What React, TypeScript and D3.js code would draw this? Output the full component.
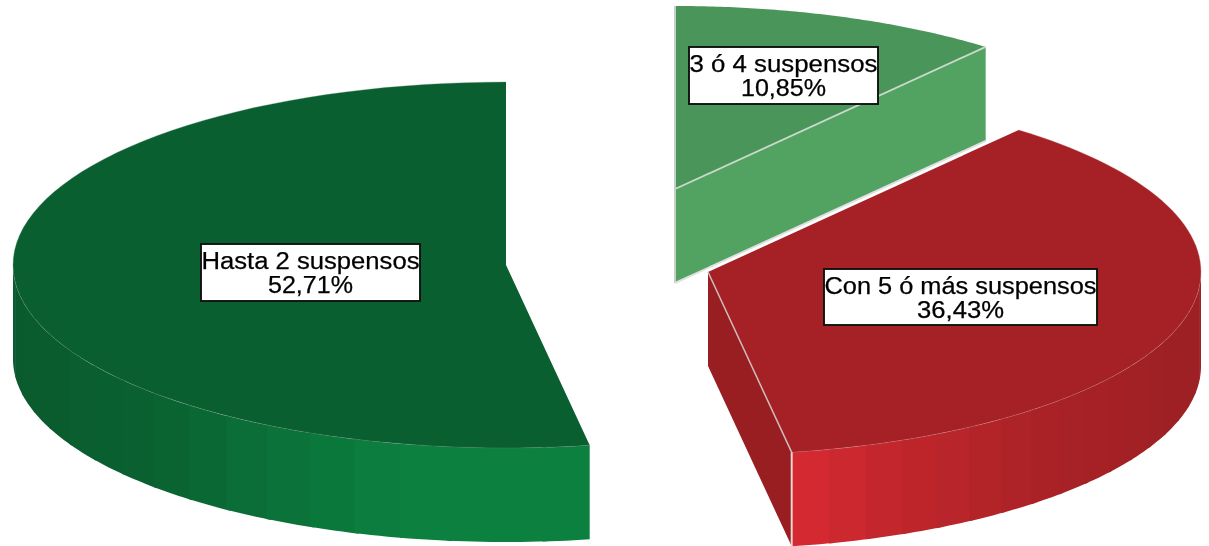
import React from "react";
import * as d3 from "d3";

const categories = ["Hasta 2 suspensos", "Con 5 ó más suspensos", "3 ó 4 suspensos"];
const percents = [52.71, 36.43, 10.85];
const percentLabels = ["52,71%", "36,43%", "10,85%"];
const topColors = ["#0a5f31", "#a52126", "#4a9559"];
const faceColors = ["#0a5f31", "#981e21", "#52a262"];
const wallStops = [
  ["#0a5a2d", "#0a6131", "#0c803f", "#0c803f"],
  ["#9c2024", "#a82226", "#c0262c", "#d92a32"],
  ["#52a262", "#52a262", "#52a262", "#52a262"],
];
const wallDomains = [
  [13, 150, 400, 590],
  [1200, 1060, 900, 791],
  [675, 800, 900, 987],
];
const apexes: [number, number][] = [[506, 265], [708, 272], [675, 189]];
const boxes = [
  { x: 201, y: 244, w: 219, h: 57 },
  { x: 824, y: 269, w: 273, h: 56 },
  { x: 689, y: 47, w: 189, h: 57 },
];
const textWidths = [218, 272, 188];
const pctWidths = [85, 87, 85];

const RX = 493;
const RY = 183;
const DEPTH = 94;

const W = 1209;
const H = 546;

export default function App() {
  const arcs = d3.pie<number>().sort(null).value((d) => d)(percents);
  const line = d3.line();

  const pt = (i: number, a: number): [number, number] => [
    apexes[i][0] - RX * Math.sin(a),
    apexes[i][1] - RY * Math.cos(a),
  ];

  const slices = arcs.map((arc, i) => {
    const a0 = arc.startAngle;
    const a1 = arc.endAngle;
    const rim = d3.range(0, 81).map((k) => pt(i, a0 + ((a1 - a0) * k) / 80));
    const apex = apexes[i];
    const top = line([apex, ...rim])! + "Z";
    const rimLine = line(rim)!;
    const color = d3
      .scaleLinear<string>()
      .domain(wallDomains[i])
      .range(wallStops[i])
      .interpolate(d3.interpolateRgb);

    const lo = Math.max(a0, Math.PI / 2);
    const hi = Math.min(a1, (3 * Math.PI) / 2);
    const bands: { d: string; fill: string }[] = [];
    if (hi > lo) {
      const n = 18;
      for (let k = 0; k < n; k++) {
        const s = lo + ((hi - lo) * k) / n;
        const e = Math.min(hi, lo + ((hi - lo) * (k + 1)) / n + 0.01);
        const seg = d3.range(0, 7).map((m) => pt(i, s + ((e - s) * m) / 6));
        const low = seg.map(([x, y]) => [x, y + DEPTH] as [number, number]).reverse();
        bands.push({
          d: line([...seg, ...low])! + "Z",
          fill: color(pt(i, (s + e) / 2)[0]),
        });
      }
    }
    return { i, a0, a1, top, rimLine, bands, apex };
  });

  const red = slices[1];
  const redTip = pt(1, red.a0);
  const lite = slices[2];
  const liteTip = pt(2, lite.a0);
  const liteApex = lite.apex;

  const quad = (p: [number, number], q: [number, number]) =>
    line([p, q, [q[0], q[1] + DEPTH], [p[0], p[1] + DEPTH]])! + "Z";

  return (
    <svg
      width={W}
      height={H}
      viewBox={`0 0 ${W} ${H}`}
      style={{ position: "absolute", left: 0, top: 0, background: "#fff" }}
    >
      <defs>
        <filter
          id="soft"
          filterUnits="userSpaceOnUse"
          x={0}
          y={0}
          width={W}
          height={H}
          colorInterpolationFilters="sRGB"
        >
          <feGaussianBlur stdDeviation="0.75" />
        </filter>
      </defs>
      <g filter="url(#soft)">
        <g>
          {slices[0].bands.map((b, k) => (
            <path key={k} d={b.d} fill={b.fill} />
          ))}
          <path d={slices[0].top} fill={topColors[0]} />
          <path d={slices[0].rimLine} fill="none" stroke="#5d8f72" strokeWidth={0.8} opacity={0.4} />
        </g>

        <g>
          <path d={quad(red.apex, redTip)} fill={faceColors[1]} />
          {red.bands.map((b, k) => (
            <path key={k} d={b.d} fill={b.fill} />
          ))}
          <path d={red.top} fill={topColors[1]} />
          <path d={red.rimLine} fill="none" stroke="#c98a8c" strokeWidth={0.8} opacity={0.4} />
          <path d={line([red.apex, redTip])!} fill="none" stroke="#d0bcbc" strokeWidth={1.5} />
          <path
            d={line([redTip, [redTip[0], redTip[1] + DEPTH]])!}
            stroke="#e6d6d6"
            strokeWidth={2}
          />
        </g>

        <g>
          <path d={lite.top} fill={topColors[2]} />
          <path d={quad(liteApex, liteTip)} fill={faceColors[2]} />
          <path d={line([liteApex, liteTip])!} fill="none" stroke="#c9d9cc" strokeWidth={1.8} />
          <path
            d={line([[liteApex[0], pt(2, lite.a1)[1]], [liteApex[0], liteApex[1] + DEPTH]])!}
            stroke="#c5d0c7"
            strokeWidth={2}
          />
          <path
            d={line([[liteApex[0], liteApex[1] + DEPTH], [liteTip[0], liteTip[1] + DEPTH]])!}
            stroke="#e0e0e0"
            strokeWidth={2}
          />
        </g>

        {categories.map((c, i) => {
          const b = boxes[i];
          const cx = b.x + b.w / 2;
          return (
            <g key={c}>
              <rect x={b.x} y={b.y} width={b.w} height={b.h} fill="#fff" stroke="#111" strokeWidth={1.9} />
              <text
                x={cx}
                y={b.y + 25}
                textAnchor="middle"
                fontFamily="'Liberation Sans', Arial, sans-serif"
                fontSize={23}
                fill="#000"
                stroke="#000"
                strokeWidth={0.25}
                textLength={textWidths[i]}
                lengthAdjust="spacingAndGlyphs"
              >
                {c}
              </text>
              <text
                x={cx}
                y={b.y + 49}
                textAnchor="middle"
                fontFamily="'Liberation Sans', Arial, sans-serif"
                fontSize={23}
                fill="#000"
                stroke="#000"
                strokeWidth={0.25}
                textLength={pctWidths[i]}
                lengthAdjust="spacingAndGlyphs"
              >
                {percentLabels[i]}
              </text>
            </g>
          );
        })}
      </g>
    </svg>
  );
}
